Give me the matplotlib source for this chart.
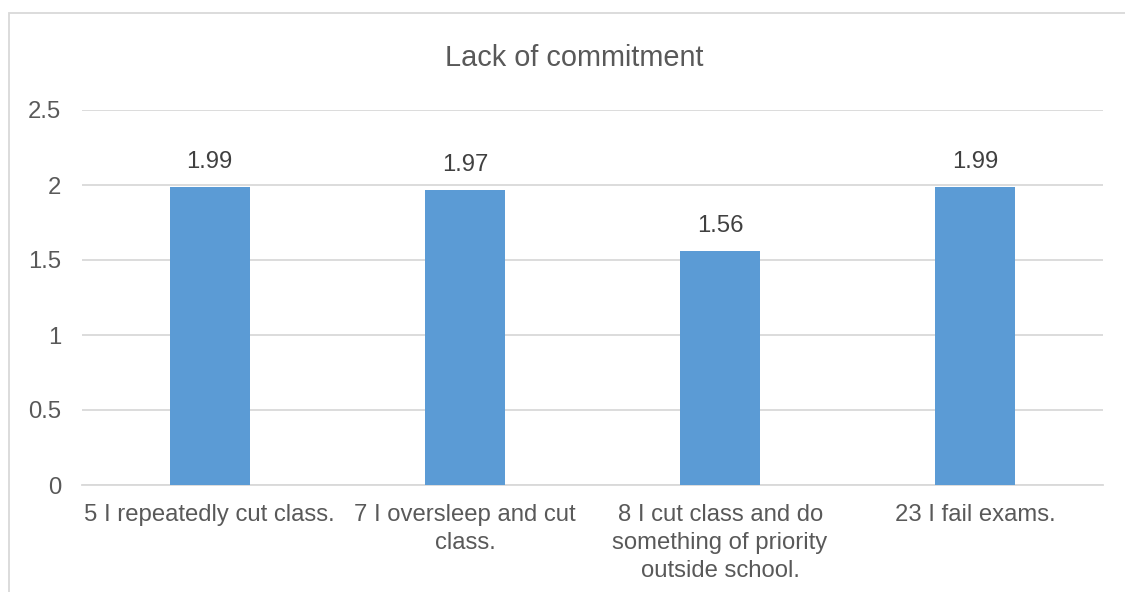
import matplotlib.pyplot as plt
from matplotlib.patches import Rectangle

plt.rcParams['font.family'] = ['Liberation Sans', 'DejaVu Sans']

categories = ["5 I repeatedly cut class.",
              "7 I oversleep and cut\nclass.",
              "8 I cut class and do\nsomething of priority\noutside school.",
              "23 I fail exams."]
values = [1.99, 1.97, 1.56, 1.99]
value_labels = ["1.99", "1.97", "1.56", "1.99"]
yticks = [0, 0.5, 1, 1.5, 2, 2.5]
ytick_labels = ["0", "0.5", "1", "1.5", "2", "2.5"]

text_color = "#595959"
grid_color = "#D9D9D9"

fig = plt.figure(figsize=(11.25, 5.92), dpi=100)
ax = fig.add_axes([82 / 1125, 1 - 485 / 592, (1103 - 82) / 1125, (485 - 110) / 592])

x = range(len(categories))
bars = ax.bar(x, values, width=0.313, color="#5B9BD5", zorder=3)

for b, lab in zip(bars, value_labels):
    ax.annotate(lab, (b.get_x() + b.get_width() / 2, b.get_height()),
                xytext=(0, 10), textcoords="offset points",
                ha="center", va="bottom", fontsize=17.2, color="#404040")

ax.set_xlim(-0.5, len(categories) - 0.5)
ax.set_ylim(0, 2.5)
ax.set_yticks(yticks)
ax.set_yticklabels(ytick_labels)
ax.set_xticks(list(x))
ax.set_xticklabels(categories, linespacing=1.33)
ax.tick_params(axis="both", length=0, labelsize=17.2, labelcolor=text_color)
ax.tick_params(axis="x", pad=14)
ax.tick_params(axis="y", pad=15)

ax.grid(axis="y", color=grid_color, linewidth=1.3, zorder=0)
for s in ["top", "right", "left"]:
    ax.spines[s].set_visible(False)
ax.spines["bottom"].set_color(grid_color)
ax.spines["bottom"].set_linewidth(1.3)

fig.text(574 / 1125, 1 - 58 / 592, "Lack of commitment", ha="center", va="center",
         fontsize=20.8, color=text_color)

# outer chart border (only top and left edges visible in the crop)
fig.patches.append(Rectangle((9 / 1125, -0.5), 3, 1 - 13 / 592 + 0.5,
                             transform=fig.transFigure, fill=False,
                             edgecolor=grid_color, linewidth=1.3))

fig.savefig("out.png", dpi=100, facecolor="white")
